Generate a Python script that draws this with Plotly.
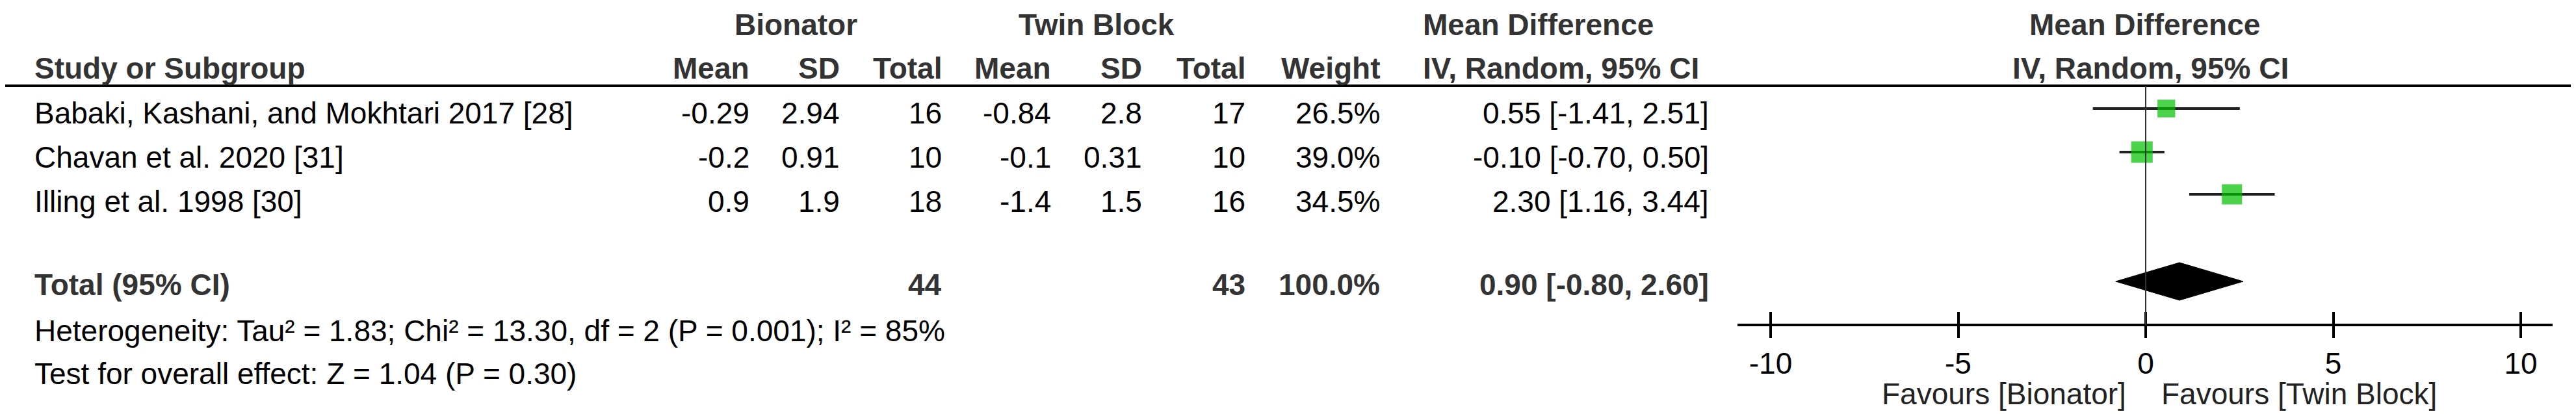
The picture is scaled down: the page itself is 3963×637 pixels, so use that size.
import plotly.graph_objects as go

studies = ["Babaki, Kashani, and Mokhtari 2017 [28]", "Chavan et al. 2020 [31]", "Illing et al. 1998 [30]"]
b_mean = ["-0.29", "-0.2", "0.9"]
b_sd = ["2.94", "0.91", "1.9"]
b_total = ["16", "10", "18"]
t_mean = ["-0.84", "-0.1", "-1.4"]
t_sd = ["2.8", "0.31", "1.5"]
t_total = ["17", "10", "16"]
weights = [26.5, 39.0, 34.5]
md = [0.55, -0.10, 2.30]
lo = [-1.41, -0.70, 1.16]
hi = [2.51, 0.50, 3.44]
tot_md, tot_lo, tot_hi = 0.90, -0.80, 2.60
tot_b, tot_t = "44", "43"
tick_vals = [-10, -5, 0, 5, 10]
tick_text = ["-10", "-5", "0", "5", "10"]

W, H = 3963, 637
FONT = "Liberation Sans, Arial, sans-serif"
FS = 46
row_text_y = [166, 234, 302]
row_mark_y = [159, 226, 291]
total_text_y, diamond_y = 430, 425

fig = go.Figure()
for i in range(3):
    fig.add_trace(go.Scatter(x=[lo[i], hi[i]], y=[row_mark_y[i]] * 2, mode="lines",
                             line=dict(color="#222", width=4), showlegend=False, hoverinfo="skip"))
fig.add_trace(go.Scatter(x=md, y=row_mark_y, mode="markers",
                         marker=dict(symbol="square", color="#00c000", size=[5.3 * w ** 0.5 for w in weights],
                                     line=dict(width=0)), showlegend=False))
fig.add_trace(go.Scatter(x=[tot_lo, tot_md, tot_hi, tot_md, tot_lo], y=[diamond_y, diamond_y - 29, diamond_y, diamond_y + 29, diamond_y],
                         mode="lines", fill="toself", fillcolor="black", line=dict(color="black", width=1),
                         showlegend=False))
fig.add_trace(go.Scatter(x=[0], y=[0], xaxis="x2", mode="markers", marker=dict(opacity=0), showlegend=False, hoverinfo="skip"))

ann = []
def t(x, y, s, anchor="left", bold=False, color="black"):
    ann.append(dict(x=x / W, y=y, xref="paper", yref="y", text=f"<b>{s}</b>" if bold else s, showarrow=False,
                    xanchor=anchor, yanchor="middle", font=dict(family=FONT, size=FS, color=color)))

hc = "#333"
t(1216, 30, "Bionator", "center", True, hc)
t(1679, 30, "Twin Block", "center", True, hc)
t(2179, 30, "Mean Difference", "left", True, hc)
t(3291, 30, "Mean Difference", "center", True, hc)
t(43, 97, "Study or Subgroup", "left", True, hc)
for x, s in [(1147, "Mean"), (1286, "SD"), (1443, "Total"), (1611, "Mean"), (1751, "SD"), (1910, "Total"), (2117, "Weight")]:
    t(x, 97, s, "right", True, hc)
t(2179, 97, "IV, Random, 95% CI", "left", True, hc)
t(3300, 97, "IV, Random, 95% CI", "center", True, hc)
for i in range(3):
    y = row_text_y[i]
    t(43, y, studies[i])
    t(1147, y, b_mean[i], "right"); t(1286, y, b_sd[i], "right"); t(1443, y, b_total[i], "right")
    t(1611, y, t_mean[i], "right"); t(1751, y, t_sd[i], "right"); t(1910, y, t_total[i], "right")
    t(2117, y, f"{weights[i]:.1f}%", "right")
    t(2623, y, f"{md[i]:.2f} [{lo[i]:.2f}, {hi[i]:.2f}]", "right")
t(43, total_text_y, "Total (95% CI)", "left", True, hc)
t(1443, total_text_y, tot_b, "right", True, hc)
t(1910, total_text_y, tot_t, "right", True, hc)
t(2117, total_text_y, "100.0%", "right", True, hc)
t(2623, total_text_y, f"{tot_md:.2f} [{tot_lo:.2f}, {tot_hi:.2f}]", "right", True, hc)
t(43, 501, "Heterogeneity: Tau² = 1.83; Chi² = 13.30, df = 2 (P = 0.001); I² = 85%")
t(43, 567, "Test for overall effect: Z = 1.04 (P = 0.30)")
t(3265, 598, "Favours [Bionator]", "right", False, "#222")
t(3315, 598, "Favours [Twin Block]", "left", False, "#222")

shapes = [
    dict(type="line", xref="paper", yref="y", x0=0, x1=1, y0=124, y1=124, line=dict(color="black", width=4)),
    dict(type="line", xref="x", yref="y", x0=0, x1=0, y0=124, y1=492, line=dict(color="#333", width=2)),
]

x0p, x1p = 2665, 3919
ppu = (3870 - 2716) / 20
rng = [-10 - (2716 - x0p) / ppu, 10 + (x1p - 3870) / ppu]
axpos = (H - 492) / H
common = dict(range=rng, domain=[x0p / W, x1p / W], anchor="free", position=axpos,
              tickvals=tick_vals, ticktext=tick_text, showgrid=False, zeroline=False, showline=True,
              linecolor="black", linewidth=4, tickcolor="black", tickwidth=4, ticklen=18)
fig.update_layout(
    width=W, height=H, margin=dict(l=0, r=0, t=0, b=0), plot_bgcolor="white", paper_bgcolor="white",
    xaxis=dict(**common, ticks="outside", tickfont=dict(family=FONT, size=FS, color="black")),
    xaxis2=dict(**common, ticks="inside", overlaying="x", matches="x", showticklabels=False),
    yaxis=dict(range=[H, 0], domain=[0, 1], visible=False),
    annotations=ann, shapes=shapes,
)
fig.write_html("out.html")
